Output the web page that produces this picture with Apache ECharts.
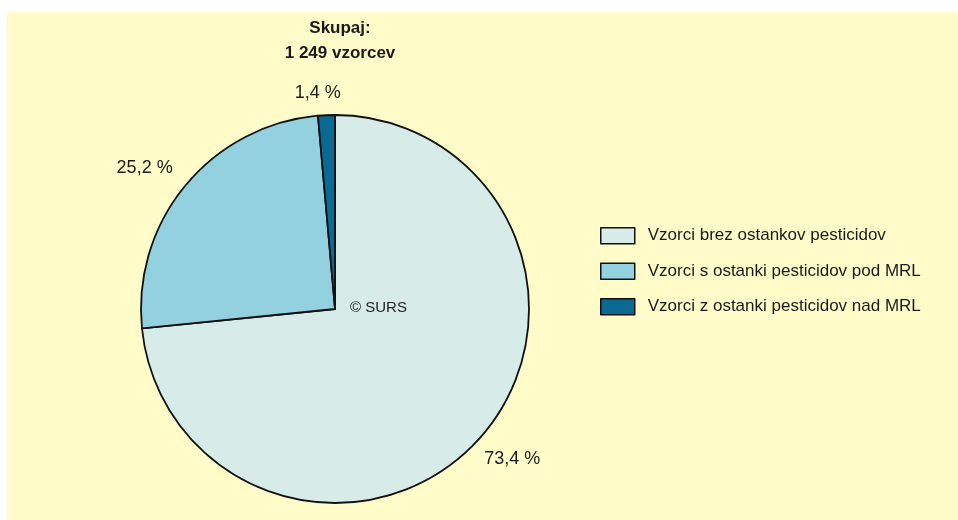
<!DOCTYPE html>
<html>
<head>
<meta charset="utf-8">
<script src="https://cdn.jsdelivr.net/npm/echarts@6/dist/echarts.min.js"></script>
<style>
  html, body { margin: 0; padding: 0; background: #fff; }
  #chart { position: absolute; left: 7px; top: 12px; width: 951px; height: 508px; background: #fffcc9; }
</style>
</head>
<body>
<div id="chart"></div>
<script>
// podatki
var categories = ['Vzorci brez ostankov pesticidov', 'Vzorci s ostanki pesticidov pod MRL', 'Vzorci z ostanki pesticidov nad MRL'];
var shares = [73.4, 25.2, 1.4];
var colors = ['#d7ece8', '#93d0e0', '#0b6a93'];
// premik oznak
var labelShift = [[-13, 8], [6, -6], [20, -4]];

var myChart = echarts.init(document.getElementById('chart'));

var option = {
  animation: false,
  textStyle: { fontFamily: 'Liberation Sans, Arial, sans-serif' },
  title: {
    text: 'Skupaj:\n1 249 vzorcev',
    left: 328,
    top: -1,
    textAlign: 'center',
    textStyle: { fontSize: 17, fontWeight: 'bold', color: '#1a1a1a', lineHeight: 25 }
  },
  legend: {
    orient: 'vertical',
    left: 588,
    top: 210,
    itemWidth: 34,
    itemHeight: 16,
    itemGap: 18,
    icon: 'rect',
    textStyle: { fontSize: 17, color: '#1a1a1a', padding: [0, 0, 0, 8] },
    itemStyle: { borderColor: '#111', borderWidth: 1.5 },
    data: categories
  },
  graphic: [{
    type: 'text',
    left: 343,
    top: 288,
    z: 100,
    style: { text: '© SURS', fill: '#222', font: '15px Liberation Sans, Arial, sans-serif' }
  }],
  series: [{
    type: 'pie',
    center: [328, 297],
    radius: 194,
    startAngle: 90,
    clockwise: true,
    color: colors,
    itemStyle: { borderColor: '#111', borderWidth: 1.8 },
    label: {
      show: true,
      position: 'outside',
      fontSize: 18,
      color: '#1a1a1a',
      formatter: function (p) { return String(p.value).replace('.', ',') + ' %'; }
    },
    labelLine: { show: false, length: 18, length2: 0 },
    labelLayout: function (p) {
      return { dx: labelShift[p.dataIndex][0], dy: labelShift[p.dataIndex][1] };
    },
    emphasis: { disabled: true },
    data: categories.map(function (c, i) { return { name: c, value: shares[i] }; })
  }]
};

myChart.setOption(option);
</script>
</body>
</html>
